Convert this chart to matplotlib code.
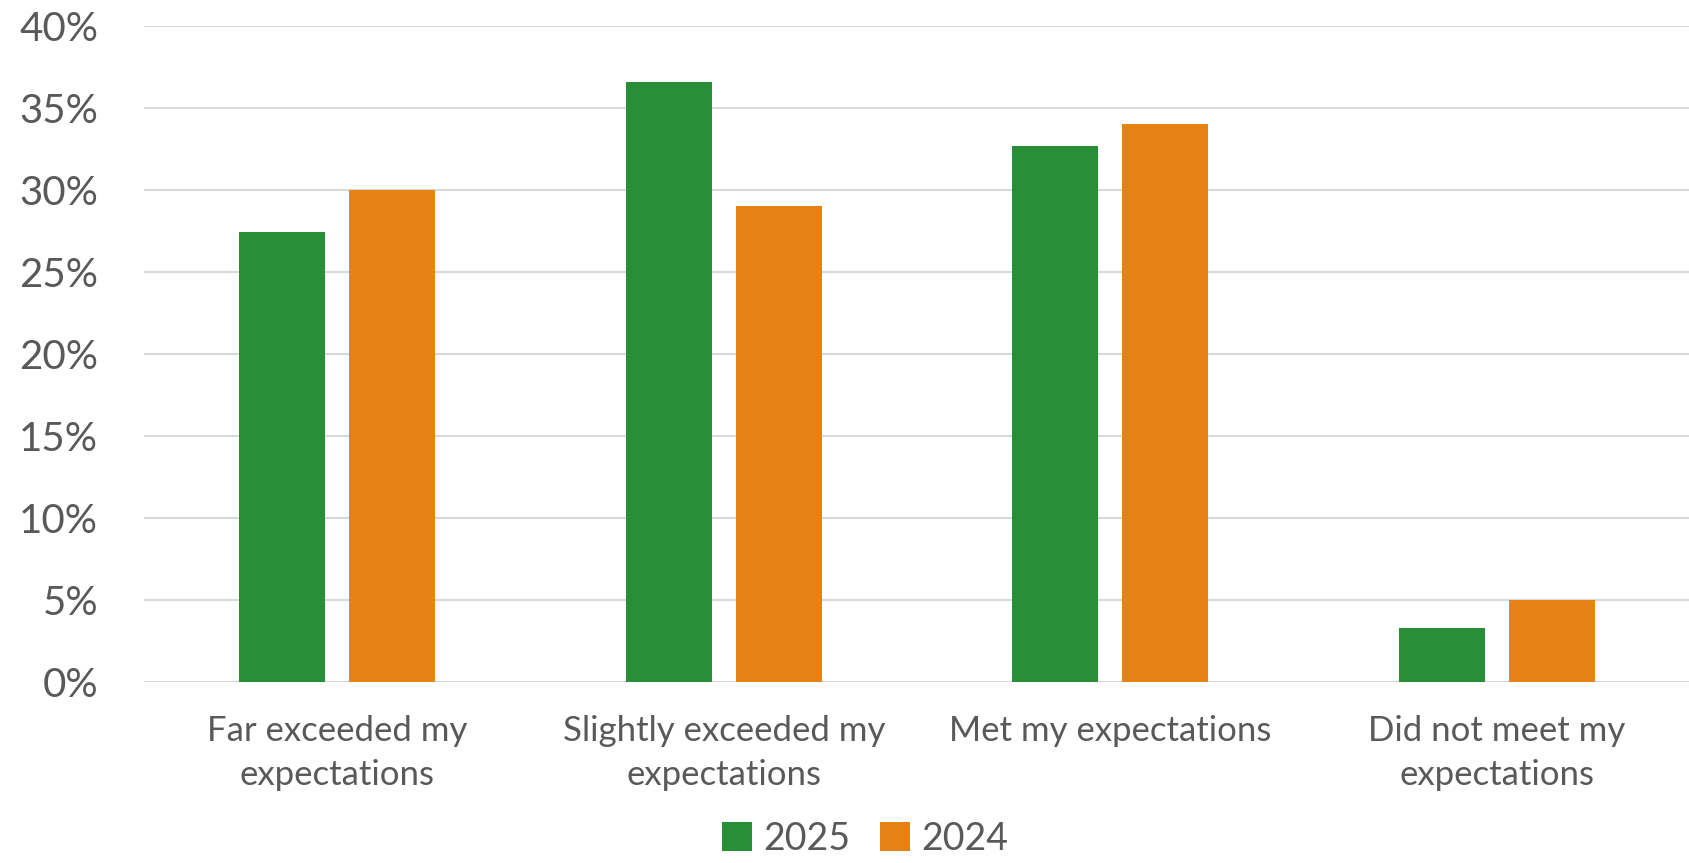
import matplotlib.pyplot as plt
import matplotlib.ticker as mticker
import numpy as np

categories = ["Far exceeded my\nexpectations", "Slightly exceeded my\nexpectations",
              "Met my expectations", "Did not meet my\nexpectations"]
values_2025 = [27.4, 36.6, 32.7, 3.3]
values_2024 = [30.0, 29.0, 34.0, 5.0]

green = "#288F38"
orange = "#E48213"
text_col = "#595959"

plt.rcParams["font.family"] = ["Lato", "DejaVu Sans"]

fig = plt.figure(figsize=(16.9, 8.63), dpi=100)
ax = fig.add_axes([0.0852, 0.21, 0.9148, 0.76])

x = np.arange(len(categories))
w = 0.223
ax.bar(x - 0.142, values_2025, w, color=green, label="2025", zorder=3)
ax.bar(x + 0.142, values_2024, w, color=orange, label="2024", zorder=3)

ax.set_xlim(-0.5, 3.5)
ax.set_ylim(0, 40)
ax.set_yticks(np.arange(0, 41, 5))
ax.yaxis.set_major_formatter(mticker.FuncFormatter(lambda v, p: f"{v:.0f}%"))
ax.grid(axis="y", color="#d9d9d9", linewidth=1.5, zorder=0)
ax.set_xticks(x)
ax.set_xticklabels(categories, fontsize=25, color=text_col, linespacing=1.45)
ax.tick_params(axis="y", labelsize=29, labelcolor=text_col, length=0, pad=33)
ax.tick_params(axis="x", length=0, pad=24)
for s in ax.spines.values():
    s.set_visible(False)

fig.legend(loc="lower center", bbox_to_anchor=(0.512, -0.032), ncol=2, frameon=False,
           fontsize=27, labelcolor=text_col, handlelength=0.8, handleheight=0.8,
           handletextpad=0.3, columnspacing=0.8)

fig.savefig("out.png", dpi=100)
